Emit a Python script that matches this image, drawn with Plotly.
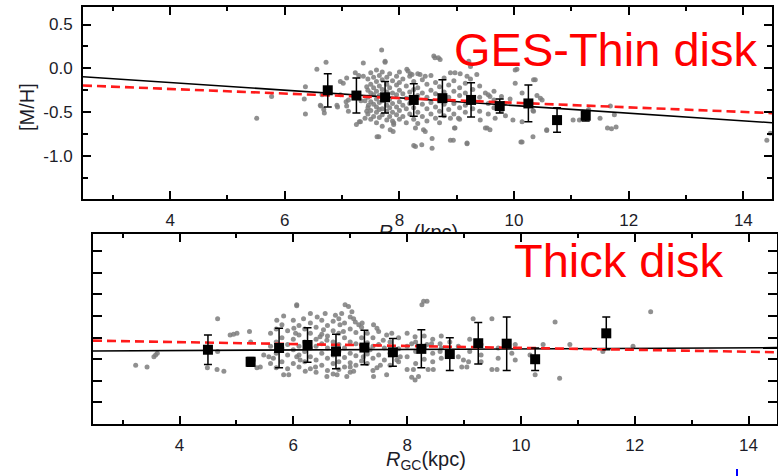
import plotly.graph_objects as go

W, H = 778, 476

# ---------------- data ----------------
# GES thin disk: individual stars (R_GC [kpc], [M/H])
thin_stars = [
    (5.51,-0.57),(5.77,-0.32),(6.36,-0.52),(6.34,-0.35),(6.36,-0.21),(6.56,-0.01),(6.72,0.07),(6.63,-0.43),
    (6.69,-0.51),(6.65,-0.30),(6.62,-0.42),(6.68,-0.47),(6.92,-0.44),(6.91,-0.42),(6.97,-0.15),(7.02,-0.17),
    (6.97,-0.30),(7.07,-0.38),(7.08,-0.43),(7.11,-0.49),(7.08,-0.11),(7.11,-0.36),(7.25,-0.64),(7.30,-0.61),
    (7.23,-0.05),(7.29,-0.08),(7.37,0.06),(7.32,-0.61),(7.37,-0.09),(7.43,-0.21),(7.40,-0.57),(7.43,-0.49),
    (7.46,-0.42),(7.33,-0.37),(7.40,-0.37),(7.69,0.21),(7.75,0.08),(7.75,0.07),(7.70,-0.04),(7.64,-0.78),
    (7.90,-0.64),(7.89,-0.72),(7.61,-0.78),(7.84,-0.70),(7.90,-0.62),(8.13,-0.01),(8.15,-0.03),(8.19,-0.06),
    (8.22,-0.07),(8.36,-0.07),(8.45,-0.09),(8.60,0.14),(8.68,0.12),(8.62,0.12),(8.71,0.10),(8.89,-0.05),
    (8.97,-0.05),(9.06,-0.06),(9.24,0.02),(9.21,0.08),(9.18,-0.09),(9.24,-0.12),(9.35,-0.07),(9.50,-0.28),
    (9.58,-0.32),(8.89,-0.57),(9.03,-0.57),(8.97,-0.68),(8.96,-0.68),(9.41,-0.59),(9.53,-0.68),(9.58,-0.70),
    (9.50,-0.68),(8.28,-0.68),(8.42,-0.70),(8.45,-0.72),(8.25,-0.88),(8.28,-0.89),(8.39,-0.87),(8.57,-0.91),
    (8.57,-0.80),(8.94,-0.82),(8.89,-0.82),(9.18,-0.86),(9.18,-0.85),(9.67,-0.57),(9.83,-0.40),(10.05,-0.01),
    (10.02,-0.02),(10.02,-0.17),(10.12,-0.84),(10.14,-0.84),(10.33,-0.78),(10.37,-0.13),(10.34,-0.13),
    (10.57,-0.71),(10.57,-0.70),(10.46,-0.34),(10.34,-0.49),(10.33,-0.48),(10.14,-0.28),(10.40,-0.31),
    (10.49,-0.36),(9.93,-0.35),(9.85,-0.54),(9.98,-0.59),(10.14,-0.61),(11.03,-0.59),(11.14,-0.59),
    (11.30,-0.47),(11.50,-0.57),(11.63,-0.68),(11.78,-0.67),(11.70,-0.69),(11.68,-0.43),(11.75,-0.53),
    (14.41,-0.82),(14.47,-0.74),
    (7.45,-0.12),(7.45,-0.25),(7.45,-0.33),(7.45,-0.45),(7.45,-0.52),
    (7.50,-0.05),(7.50,-0.18),(7.50,-0.28),(7.50,-0.38),(7.50,-0.48),(7.50,-0.58),
    (7.55,-0.10),(7.55,-0.22),(7.55,-0.30),(7.55,-0.41),(7.55,-0.55),
    (7.60,-0.02),(7.60,-0.15),(7.60,-0.26),(7.60,-0.35),(7.60,-0.44),(7.60,-0.50),(7.60,-0.62),
    (7.65,-0.08),(7.65,-0.20),(7.65,-0.31),(7.65,-0.39),(7.65,-0.47),(7.65,-0.56),
    (7.70,-0.13),(7.70,-0.24),(7.70,-0.37),(7.70,-0.46),(7.70,-0.53),(7.70,-0.66),
    (7.78,-0.10),(7.78,-0.18),(7.78,-0.27),(7.78,-0.42),(7.78,-0.49),(7.78,-0.59),
    (7.83,-0.06),(7.83,-0.22),(7.83,-0.35),(7.83,-0.45),(7.83,-0.55),
    (7.88,-0.14),(7.88,-0.28),(7.88,-0.40),(7.88,-0.50),(7.88,-0.60),
    (7.95,-0.09),(7.95,-0.19),(7.95,-0.30),(7.95,-0.44),(7.95,-0.53),
    (8.00,-0.04),(8.00,-0.16),(8.00,-0.25),(8.00,-0.38),(8.00,-0.48),(8.00,-0.58),
    (8.06,-0.12),(8.06,-0.29),(8.06,-0.42),(8.06,-0.55),
    (8.12,-0.20),(8.12,-0.34),(8.12,-0.46),(8.12,-0.62),
    (8.18,-0.09),(8.18,-0.27),(8.18,-0.40),(8.18,-0.52),
    (8.25,-0.15),(8.25,-0.24),(8.25,-0.45),(8.25,-0.58),
    (8.32,-0.06),(8.32,-0.22),(8.32,-0.31),(8.32,-0.50),(8.32,-0.63),
    (8.40,-0.13),(8.40,-0.28),(8.40,-0.41),(8.40,-0.55),
    (8.48,-0.18),(8.48,-0.33),(8.48,-0.46),(8.48,-0.60),
    (8.55,-0.08),(8.55,-0.25),(8.55,-0.39),(8.55,-0.52),
    (8.63,-0.16),(8.63,-0.29),(8.63,-0.44),(8.63,-0.57),
    (8.70,-0.21),(8.70,-0.36),(8.70,-0.49),(8.70,-0.62),
    (8.78,-0.11),(8.78,-0.27),(8.78,-0.41),(8.78,-0.54),
    (8.86,-0.19),(8.86,-0.33),(8.86,-0.47),
    (8.95,-0.14),(8.95,-0.26),(8.95,-0.40),(8.95,-0.52),
    (9.05,-0.22),(9.05,-0.31),(9.05,-0.45),(9.05,-0.58),
    (9.15,-0.17),(9.15,-0.28),(9.15,-0.42),(9.15,-0.50),
    (9.28,-0.24),(9.28,-0.37),(9.28,-0.46),
    (9.40,-0.20),(9.40,-0.33),(9.40,-0.49),
    (9.55,-0.30),(9.55,-0.40),(9.55,-0.52),
    (9.65,-0.26),(9.65,-0.36),(9.65,-0.45),
    (9.78,-0.32),(9.78,-0.48),
]
thin_star_R = [p[0] for p in thin_stars]
thin_star_MH = [p[1] for p in thin_stars]

# thin disk binned means
thin_bin_R = [6.75, 7.25, 7.75, 8.25, 8.75, 9.25, 9.75, 10.25, 10.75, 11.25]
thin_bin_MH = [-0.25, -0.31, -0.33, -0.36, -0.34, -0.36, -0.43, -0.40, -0.59, -0.54]
thin_bin_err = [0.19, 0.20, 0.18, 0.185, 0.21, 0.195, 0.08, 0.21, 0.14, 0.06]

# thin disk gradients (end points)
thin_fit_R = [2.48, 14.5]
thin_fit_MH = [-0.095, -0.62]
thin_fit2_R = [2.48, 14.5]
thin_fit2_MH = [-0.195, -0.51]

# Thick disk: individual stars
thick_stars = [
    (3.23,-0.82),(3.43,-0.84),(3.55,-0.72),(3.58,-0.70),(3.61,-0.68),(4.67,-0.28),(4.89,-0.47),(4.95,-0.46),
    (5.01,-0.45),(5.23,-0.43),(5.25,-0.55),(4.67,-0.66),(4.66,-0.87),(4.78,-0.89),(4.49,-0.85),(5.30,-0.76),
    (5.36,-0.85),(5.42,-0.84),(5.48,-0.70),(5.57,-0.72),(5.65,-0.74),(5.71,-0.30),(5.83,-0.25),(6.06,-0.12),
    (6.01,-0.39),(6.04,-0.45),(6.06,-0.72),(5.83,-0.93),(5.92,-0.93),(6.18,-0.28),(6.30,-0.22),(6.56,-0.22),
    (6.42,-0.26),(6.74,-0.24),(6.85,-0.22),(6.91,-0.12),(6.97,-0.14),(7.03,-0.20),(7.06,-0.28),(7.09,-0.32),
    (7.15,-0.35),(7.21,-0.33),(6.82,-0.35),(6.88,-0.43),(6.53,-0.41),(6.47,-0.49),(6.59,-0.53),(7.41,-0.35),
    (7.47,-0.39),(7.64,-0.47),(7.73,-0.45),(8.26,-0.12),(8.35,-0.08),(8.29,-0.08),(8.08,-0.57),(8.14,-0.49),
    (8.35,-0.58),(8.43,-0.57),(8.58,-0.57),(6.12,-0.76),(6.21,-0.89),(6.39,-0.84),(6.59,-0.95),(6.77,-0.93),
    (6.94,-0.95),(7.00,-0.84),(7.06,-0.89),(7.41,-0.95),(7.47,-0.85),(7.53,-0.82),(7.64,-0.93),(7.82,-0.76),
    (7.88,-0.72),(8.00,-0.87),(8.11,-0.87),(8.14,-0.99),(8.20,-0.95),(8.08,-0.96),(8.37,-0.87),(8.46,-0.87),
    (8.58,-0.66),(7.58,-0.53),(7.35,-0.64),(7.23,-0.72),(9.16,-0.28),(9.49,-0.28),(10.60,-0.32),(8.99,-0.76),
    (9.08,-0.78),(9.05,-0.84),(8.96,-0.84),(9.49,-0.87),(9.58,-0.87),(9.84,-0.68),(10.16,-0.70),(10.25,-0.93),
    (10.39,-0.58),(10.86,-0.58),(10.68,-0.97),(11.44,-0.66),(11.97,-0.60),(12.28,-0.20),(6.06,-0.13),
    (5.60,-0.45),(5.60,-0.60),(5.60,-0.80),
    (5.70,-0.40),(5.70,-0.55),(5.70,-0.68),(5.70,-0.85),
    (5.80,-0.35),(5.80,-0.50),(5.80,-0.62),(5.80,-0.78),
    (5.90,-0.42),(5.90,-0.58),(5.90,-0.70),(5.90,-0.86),
    (6.00,-0.30),(6.00,-0.52),(6.00,-0.64),(6.00,-0.80),
    (6.10,-0.36),(6.10,-0.47),(6.10,-0.60),(6.10,-0.70),(6.10,-0.84),
    (6.20,-0.40),(6.20,-0.55),(6.20,-0.66),(6.20,-0.78),
    (6.30,-0.33),(6.30,-0.45),(6.30,-0.62),(6.30,-0.72),(6.30,-0.86),
    (6.40,-0.38),(6.40,-0.52),(6.40,-0.60),(6.40,-0.76),(6.40,-0.90),
    (6.50,-0.30),(6.50,-0.46),(6.50,-0.57),(6.50,-0.68),(6.50,-0.82),
    (6.60,-0.36),(6.60,-0.48),(6.60,-0.62),(6.60,-0.74),(6.60,-0.88),
    (6.70,-0.31),(6.70,-0.42),(6.70,-0.55),(6.70,-0.70),(6.70,-0.80),(6.70,-0.92),
    (6.80,-0.28),(6.80,-0.45),(6.80,-0.58),(6.80,-0.66),(6.80,-0.78),(6.80,-0.87),
    (6.90,-0.33),(6.90,-0.50),(6.90,-0.62),(6.90,-0.73),(6.90,-0.84),
    (7.00,-0.26),(7.00,-0.40),(7.00,-0.55),(7.00,-0.68),(7.00,-0.79),(7.00,-0.90),
    (7.10,-0.44),(7.10,-0.57),(7.10,-0.71),(7.10,-0.82),
    (7.20,-0.38),(7.20,-0.50),(7.20,-0.62),(7.20,-0.77),
    (7.30,-0.45),(7.30,-0.56),(7.30,-0.69),(7.30,-0.80),
    (7.40,-0.50),(7.40,-0.60),(7.40,-0.74),(7.40,-0.88),
    (7.50,-0.43),(7.50,-0.58),(7.50,-0.70),
    (7.60,-0.62),(7.60,-0.76),
    (7.70,-0.55),(7.70,-0.68),(7.70,-0.82),
    (7.85,-0.50),(7.85,-0.63),(7.85,-0.78),
    (8.00,-0.45),(8.00,-0.60),(8.00,-0.72),
    (8.15,-0.55),(8.15,-0.66),(8.15,-0.80),
    (8.30,-0.48),(8.30,-0.62),(8.30,-0.75),
    (8.45,-0.52),(8.45,-0.68),(8.45,-0.78),
    (8.60,-0.48),(8.60,-0.62),(8.60,-0.74),
    (8.75,-0.55),(8.75,-0.70),
    (8.90,-0.60),(8.90,-0.72),
    (9.10,-0.52),(9.10,-0.66),
    (9.30,-0.58),(9.30,-0.70),(9.30,-0.78),
    (9.60,-0.62),(9.60,-0.74),
    (9.90,-0.58),(9.90,-0.76),
]
thick_star_R = [p[0] for p in thick_stars]
thick_star_MH = [p[1] for p in thick_stars]

thick_bin_R = [4.5, 5.25, 5.75, 6.25, 6.75, 7.25, 7.75, 8.25, 8.75, 9.25, 9.75, 10.25, 11.5]
thick_bin_MH = [-0.64, -0.78, -0.62, -0.585, -0.66, -0.615, -0.67, -0.63, -0.69, -0.565, -0.57, -0.75, -0.45]
thick_bin_err = [0.17, 0.05, 0.23, 0.20, 0.20, 0.20, 0.16, 0.22, 0.19, 0.24, 0.31, 0.13, 0.19]

thick_fit_R = [2.48, 14.5]
thick_fit_MH = [-0.654, -0.616]
thick_fit2_R = [2.48, 14.5]
thick_fit2_MH = [-0.535, -0.669]

y_tickvals = [0.5, 0.0, -0.5, -1.0]
y_ticktext = ["0.5", "0.0", "-0.5", "-1.0"]
x_tickvals = [4, 6, 8, 10, 12, 14]

FONT = "Liberation Sans, Arial, Helvetica, sans-serif"
TICKCOL = "#1c1c28"
GRAY = "rgba(125,125,125,0.85)"

def px_x(p):
    return p / W

def px_y(p):
    return 1 - p / H

fig = go.Figure()

# ---- top panel ----
fig.add_trace(go.Scatter(x=thin_star_R, y=thin_star_MH, mode="markers",
                         marker=dict(size=5, color=GRAY), xaxis="x", yaxis="y", showlegend=False))
fig.add_trace(go.Scatter(x=thin_fit_R, y=thin_fit_MH, mode="lines",
                         line=dict(color="black", width=1.6), xaxis="x", yaxis="y", showlegend=False))
fig.add_trace(go.Scatter(x=thin_fit2_R, y=thin_fit2_MH, mode="lines",
                         line=dict(color="#ff1a1a", width=2.6, dash="9px,5px"), xaxis="x", yaxis="y",
                         showlegend=False))
fig.add_trace(go.Scatter(x=thin_bin_R, y=thin_bin_MH, mode="markers",
                         marker=dict(symbol="square", size=10, color="black"),
                         error_y=dict(type="data", array=thin_bin_err, color="black", thickness=1.5, width=4),
                         xaxis="x", yaxis="y", showlegend=False))

# ---- bottom panel ----
fig.add_trace(go.Scatter(x=thick_star_R, y=thick_star_MH, mode="markers",
                         marker=dict(size=5, color=GRAY), xaxis="x2", yaxis="y2", showlegend=False))
fig.add_trace(go.Scatter(x=thick_fit_R, y=thick_fit_MH, mode="lines",
                         line=dict(color="black", width=1.6), xaxis="x2", yaxis="y2", showlegend=False))
fig.add_trace(go.Scatter(x=thick_fit2_R, y=thick_fit2_MH, mode="lines",
                         line=dict(color="#ff1a1a", width=2.6, dash="9px,5px"), xaxis="x2", yaxis="y2",
                         showlegend=False))
fig.add_trace(go.Scatter(x=thick_bin_R, y=thick_bin_MH, mode="markers",
                         marker=dict(symbol="square", size=10, color="black"),
                         error_y=dict(type="data", array=thick_bin_err, color="black", thickness=1.5, width=4),
                         xaxis="x2", yaxis="y2", showlegend=False))

# ---- clipped x-title of the top panel (hidden partly by the lower panel) ----
fig.add_trace(go.Scatter(x=[8.33], y=[8], mode="text", text=["<i>R</i><sub>GC</sub>(kpc)"],
                         textposition="bottom center", cliponaxis=True,
                         textfont=dict(family=FONT, size=20, color=TICKCOL),
                         xaxis="x3", yaxis="y3", showlegend=False, hoverinfo="skip"))

common_x = dict(range=[2.48, 14.5], tickmode="array", tickvals=x_tickvals, ticks="inside", ticklen=8,
                tickwidth=1.5, tickcolor="black", showline=True, linewidth=2, linecolor="black",
                mirror="ticks", showgrid=False, zeroline=False,
                tickfont=dict(family=FONT, size=17, color=TICKCOL), ticklabelstandoff=5,
                minor=dict(dtick=1, tick0=0, ticks="inside", ticklen=4, tickwidth=1.5, tickcolor="black",
                           showgrid=False))

fig.update_layout(
    width=W, height=H, margin=dict(l=0, r=0, t=0, b=0),
    paper_bgcolor="white", plot_bgcolor="rgba(0,0,0,0)",
    xaxis=dict(domain=[px_x(83), px_x(772)], anchor="y", **common_x),
    yaxis=dict(domain=[px_y(199), px_y(7)], anchor="x", range=[-1.49, 0.7], tickmode="array",
               tickvals=y_tickvals, ticktext=y_ticktext, ticks="inside", ticklen=8, tickwidth=1.5,
               tickcolor="black", showline=True, linewidth=2, linecolor="black", mirror="ticks",
               showgrid=False, zeroline=False, tickfont=dict(family=FONT, size=17, color=TICKCOL),
               ticklabelstandoff=5,
               minor=dict(dtick=0.25, tick0=0, ticks="inside", ticklen=5, tickwidth=1.5,
                          tickcolor="black", showgrid=False)),
    xaxis2=dict(domain=[px_x(93), px_x(777)], anchor="y2", **common_x),
    yaxis2=dict(domain=[px_y(424), px_y(234)], anchor="x2", range=[-1.5, 0.7], tickmode="linear",
                tick0=0, dtick=0.25, ticks="inside", ticklen=9, tickwidth=1.5, tickcolor="black",
                showline=True, linewidth=2, linecolor="black", mirror="ticks", showgrid=False,
                zeroline=False, showticklabels=False),
    yaxis4=dict(overlaying="y2", anchor="x2", side="left", range=[-1.5, 0.7], tickmode="linear",
                tick0=0, dtick=0.25, ticks="outside", ticklen=4, tickwidth=1.5, tickcolor="black",
                showline=False, showgrid=False, zeroline=False, showticklabels=False),
    xaxis3=dict(domain=[px_x(83), px_x(772)], anchor="y3", range=[2.48, 14.5], visible=False),
    yaxis3=dict(domain=[px_y(232), px_y(201)], anchor="x3", range=[0, 31], visible=False),
)

ann = [
    dict(text="GES-Thin disk", x=px_x(452), y=px_y(50), xanchor="left", yanchor="middle",
         font=dict(family=FONT, size=47, color="#ff0000")),
    dict(text="Thick disk", x=px_x(512), y=px_y(260), xanchor="left", yanchor="middle",
         font=dict(family=FONT, size=47, color="#ff0000")),
    dict(text="[M/H]", x=px_x(27), y=px_y(107), xanchor="center", yanchor="middle", textangle=-90,
         font=dict(family=FONT, size=20, color=TICKCOL)),
    dict(text="<i>R</i><sub>GC</sub>(kpc)", x=px_x(426), y=px_y(460), xanchor="center", yanchor="middle",
         font=dict(family=FONT, size=20, color=TICKCOL)),
]
for a in ann:
    a.update(xref="paper", yref="paper", showarrow=False)
fig.update_layout(annotations=ann)

fig.add_shape(type="line", xref="paper", yref="paper", x0=px_x(737), x1=px_x(737), y0=px_y(469),
              y1=px_y(476), line=dict(color="blue", width=2))

fig.write_html("out.html", config={"displayModeBar": False},
               post_script="document.body.style.margin='0px';document.body.style.overflow='hidden';")
